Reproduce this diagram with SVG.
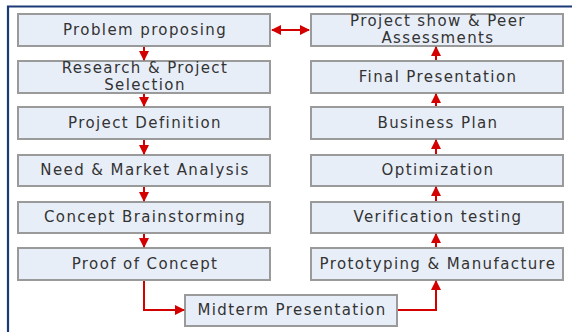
<svg xmlns="http://www.w3.org/2000/svg" width="572" height="332" viewBox="0 0 572 332">
<style>
.box{fill:#e8eef8;stroke:#9a9a9a;stroke-width:2}
.t{font-family:"DejaVu Sans",Verdana,sans-serif;font-size:15px;letter-spacing:1.4px;fill:#333;text-anchor:middle}
.c{fill:none;stroke:#d40000;stroke-width:2}
</style>
<defs>
<marker id="ah" viewBox="0 0 10 10" refX="9" refY="5" markerWidth="5" markerHeight="5" orient="auto-start-reverse" markerUnits="strokeWidth">
<path d="M0,0 L10,5 L0,10 z" fill="#d40000"/>
</marker>
</defs>
<rect width="572" height="332" fill="#fff"/>
<path d="M8,332 V6.5 H572" fill="none" stroke="#1c3a78" stroke-width="2.2"/>
<g id="n1"><rect class="box" x="18" y="14" width="252" height="32"/><text class="t" x="145" y="35">Problem proposing</text></g>
<g id="n2"><rect class="box" x="18" y="61" width="252" height="32"/><text class="t" x="145" y="72.5">Research &amp; Project</text><text class="t" x="145" y="89.5">Selection</text></g>
<g id="n3"><rect class="box" x="18" y="107" width="252" height="32"/><text class="t" x="145" y="128">Project Definition</text></g>
<g id="n4"><rect class="box" x="18" y="155" width="252" height="31"/><text class="t" x="145" y="175">Need &amp; Market Analysis</text></g>
<g id="n5"><rect class="box" x="18" y="202" width="252" height="31"/><text class="t" x="145" y="222">Concept Brainstorming</text></g>
<g id="n6"><rect class="box" x="18" y="248" width="252" height="32"/><text class="t" x="145" y="269">Proof of Concept</text></g>
<g id="n7"><rect class="box" x="185" y="295" width="212" height="31"/><text class="t" x="292" y="315">Midterm Presentation</text></g>
<g id="n8"><rect class="box" x="311" y="248" width="252" height="32"/><text class="t" x="438" y="269">Prototyping &amp; Manufacture</text></g>
<g id="n9"><rect class="box" x="311" y="202" width="252" height="31"/><text class="t" x="438" y="222">Verification testing</text></g>
<g id="n10"><rect class="box" x="311" y="155" width="252" height="31"/><text class="t" x="438" y="175">Optimization</text></g>
<g id="n11"><rect class="box" x="311" y="107" width="252" height="32"/><text class="t" x="438" y="128">Business Plan</text></g>
<g id="n12"><rect class="box" x="311" y="61" width="252" height="32"/><text class="t" x="438" y="82">Final Presentation</text></g>
<g id="n13"><rect class="box" x="311" y="14" width="252" height="32"/><text class="t" x="438" y="25.5">Project show &amp; Peer</text><text class="t" x="438" y="42.5">Assessments</text></g>
<g id="connectors">
<path class="c" d="M272,30 H309" marker-start="url(#ah)" marker-end="url(#ah)"/>
<path class="c" d="M144,47 V60" marker-end="url(#ah)"/>
<path class="c" d="M144,94 V106" marker-end="url(#ah)"/>
<path class="c" d="M144,140 V154" marker-end="url(#ah)"/>
<path class="c" d="M144,187 V201" marker-end="url(#ah)"/>
<path class="c" d="M144,234 V247" marker-end="url(#ah)"/>
<path class="c" d="M144,281 V310 H184" marker-end="url(#ah)"/>
<path class="c" d="M398,310 H436 V281" marker-end="url(#ah)"/>
<path class="c" d="M436,247 V234" marker-end="url(#ah)"/>
<path class="c" d="M436,201 V187" marker-end="url(#ah)"/>
<path class="c" d="M436,154 V140" marker-end="url(#ah)"/>
<path class="c" d="M436,106 V94" marker-end="url(#ah)"/>
<path class="c" d="M436,60 V47" marker-end="url(#ah)"/>
</g>
</svg>
